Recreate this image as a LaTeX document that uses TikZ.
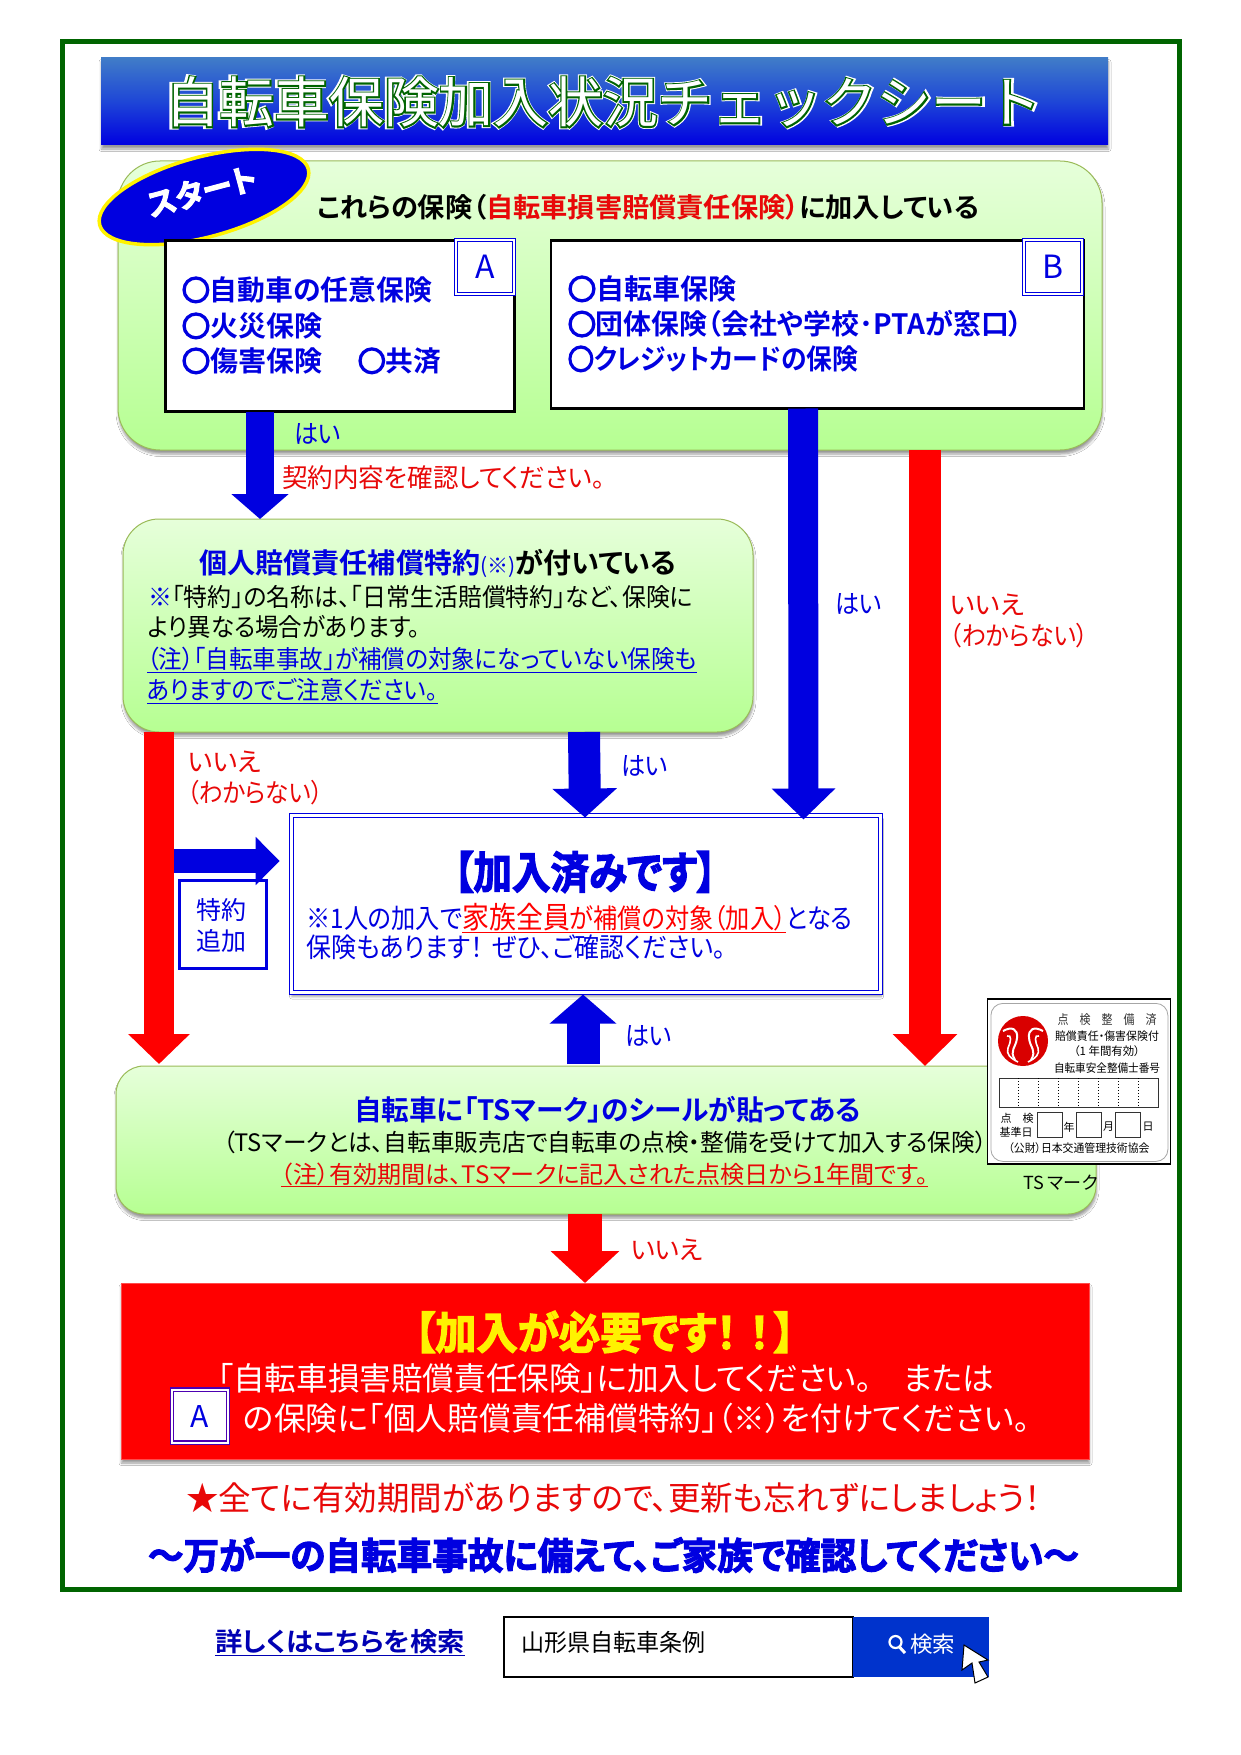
\documentclass[tikz,border=0pt]{standalone}
\usepackage{graphicx}
\usepackage{fontspec}
\usetikzlibrary{arrows.meta,shadows,shadows.blur,shapes.geometric}
\setmainfont{Noto Sans CJK JP}[BoldFont={Noto Sans CJK JP Bold},RawFeature=+palt]
\newfontfamily\jh{Noto Sans CJK JP Bold}[FakeBold=3,RawFeature=+palt]
\newfontfamily\jm{Noto Sans CJK JP Bold}[FakeBold=7]
\newfontfamily\tla{Noto Sans CJK JP}[FakeBold=9]
\newfontfamily\tlb{Noto Sans CJK JP}[FakeBold=5.5]
\newfontfamily\tlc{Noto Sans CJK JP}
\definecolor{bl}{RGB}{0,0,224}
\definecolor{rd}{RGB}{255,0,0}
\definecolor{rt}{RGB}{232,8,8}
\definecolor{dg}{RGB}{0,100,0}
\definecolor{ptop}{RGB}{230,255,218}
\definecolor{pbot}{RGB}{182,255,146}
\definecolor{pedge}{RGB}{155,187,89}
\definecolor{bandtop}{RGB}{64,124,200}
\definecolor{bandmid}{RGB}{30,70,215}
\definecolor{btn}{RGB}{0,51,204}
\newcommand\fs[1]{\fontsize{#1pt}{#1pt}\selectfont}
\newcommand\fw[2]{\resizebox{#1pt}{\height}{#2}}
\newcommand\maru{{\jm ○}}
\newsavebox\ulbox
\newcommand\ul[1]{\leavevmode\sbox\ulbox{#1}\smash{\rlap{\vrule width\wd\ulbox height -0.13em depth 0.17em}}\usebox\ulbox\relax}
\tikzset{
  tx/.style={anchor=west,inner sep=0pt,outer sep=0pt},
  cx/.style={anchor=center,inner sep=0pt,outer sep=0pt},
  softshadow/.style={blur shadow={shadow xshift=.5pt,shadow yshift=-4pt,shadow blur radius=2.5pt,shadow blur steps=5,shadow opacity=40}},
  panel/.style={rectangle,anchor=north west,inner sep=0pt,outer sep=0pt,draw=pedge,line width=1pt,top color=ptop,bottom color=pbot,softshadow},
  listbox/.style={rectangle,anchor=north west,inner sep=0pt,outer sep=0pt,draw=black,line width=2.5pt,fill=white},
  tagbox/.style={rectangle,anchor=north west,inner sep=0pt,outer sep=0pt,draw=bl,line width=1pt,double=white,double distance=1.8pt,fill=white,font=\fs{32}\color{bl}},
  barrow/.style n args={3}{draw=bl,line width=#1pt,-{Triangle[length=#3pt,width=#2pt]}},
  rarrow/.style n args={3}{draw=rd,line width=#1pt,-{Triangle[length=#3pt,width=#2pt]}},
  tsline/.style={cx,font=\fs{11.5}\color{black!75}},
}
\begin{document}
\begin{tikzpicture}[x=1pt,y=-1pt]
\useasboundingbox (0,0) rectangle (1241,1755);
\fill[white] (0,0) rectangle (1241,1755);
% frame
\node[rectangle,anchor=north west,draw=dg,line width=5pt,inner sep=0pt,outer sep=0pt,minimum width=1116.5pt,minimum height=1548pt] (frame) at (62.5,41.5) {};
% title band
\node[rectangle,anchor=north west,inner sep=0pt,outer sep=0pt,minimum width=1007pt,minimum height=87pt,top color=bandtop,bottom color=bl,middle color=bandmid,softshadow] (band) at (101,58) {};
\node[cx,font=\tla\fs{54.5}\color{white}] (titleA) at (603,102) {\fw{880}{自転車保険加入状況チェックシート}};
\node[cx,font=\tlb\fs{54.5}\color{dg}] (titleB) at (603,102) {\fw{876}{自転車保険加入状況チェックシート}};
\node[cx,font=\tlc\fs{54.5}\color{white}] (titleC) at (603,102) {\fw{876}{自転車保険加入状況チェックシート}};
% panel 1
\node[panel,rounded corners=42pt,minimum width=984pt,minimum height=289pt] (p1) at (118,161) {};
\node[ellipse,draw=yellow,line width=3.5pt,fill=bl,minimum width=216pt,minimum height=80pt,inner sep=0pt,rotate=15] (start) at (204,197) {};
\node[cx,rotate=15,font=\jh\fs{31}\color{white}] (startlabel) at (202,191) {\fw{112}{スタート}};
\node[tx,font=\bfseries\fs{27}] (q1) at (317,207) {\fw{662}{これらの保険（{\color{rt}自転車損害賠償責任保険）}に加入している}};
\node[listbox,minimum width=349pt,minimum height=171pt] (boxA) at (165.5,240.5) {};
\node[listbox,minimum width=533pt,minimum height=168pt] (boxB) at (551,240.5) {};
\node[tagbox,minimum width=58pt,minimum height=54pt] (tagA) at (456,240) {A};
\node[tagbox,minimum width=58pt,minimum height=54pt] (tagB) at (1024,240) {B};
\begin{scope}[every node/.style={tx,font=\bfseries\fs{28}\color{bl}}]
\node (a1) at (182,290) {\fw{250}{\maru 自動車の任意保険}};
\node (a2) at (182,326) {\fw{140}{\maru 火災保険}};
\node (a3) at (182,361) {\fw{140}{\maru 傷害保険}};
\node (a4) at (358,361) {\fw{83}{\maru 共済}};
\node (b1) at (568,289) {\fw{168}{\maru 自転車保険}};
\node (b2) at (568,324) {\fw{455}{\maru 団体保険（会社や学校･PTAが窓口）}};
\node (b3) at (568,359) {\fw{290}{\maru クレジットカードの保険}};
\end{scope}
% panel 2
\node[panel,rounded corners=36pt,minimum width=630pt,minimum height=213pt] (p2) at (123,519) {};
\node[tx,font=\bfseries\fs{28}] (h2) at (199.5,563) {\fw{477}{{\color{bl}個人賠償責任補償特約{\mdseries\fs{21}(※)}}が付いている}};
\node[tx,font=\fs{25}] (l1) at (148,597) {\fw{545}{{\color{bl}※}「特約」の名称は、「日常生活賠償特約」など、保険に}};
\node[tx,font=\fs{25}] (l2) at (148,627) {\fw{272}{より異なる場合があります。}};
\node[tx,font=\fs{25}\color{bl}] (l3) at (147,659) {\fw{550}{\ul{（注）「自転車事故」が補償の対象になっていない保険も}}};
\node[tx,font=\fs{25}\color{bl}] (l4) at (147,690) {\fw{291}{\ul{ありますのでご注意ください。}}};
% panel done
\node[rectangle,anchor=north west,inner sep=0pt,outer sep=0pt,draw=bl,line width=1.3pt,double=white,double distance=2.8pt,fill=white,minimum width=589pt,minimum height=177pt,softshadow] (done) at (291.5,815.5) {};
\node[cx,font=\jh\fs{44}\color{bl}] (d0) at (585,872) {\fw{262}{【加入済みです】}};
\node[tx,font=\fs{27}\color{bl}] (d1) at (306.5,917) {\fw{546}{※1人の加入で{\color{rd}\ul{{\fs{30}家族全員}が補償の対象（加入）}}となる}};
\node[tx,font=\fs{27}\color{bl}] (d2) at (306.5,947) {\fw{419}{保険もあります！\hspace{.35em}ぜひ、ご確認ください。}};
\node[rectangle,anchor=north west,inner sep=0pt,outer sep=0pt,draw=bl,line width=3pt,fill=white,minimum width=87pt,minimum height=88pt] (addbox) at (179,880) {};
\node[cx,font=\fs{25}\color{bl}] (add1) at (221.5,910) {特約};
\node[cx,font=\fs{25}\color{bl}] (add2) at (221.5,941) {追加};
% panel 3
\node[panel,rounded corners=28pt,minimum width=980pt,minimum height=148pt] (p3) at (116,1066) {};
\node[tx,font=\bfseries\fs{28}\color{bl}] (h3) at (354,1110) {\fw{507}{自転車に「TSマーク」のシールが貼ってある}};
\node[tx,font=\fs{24}] (s3) at (223,1142.5) {\fw{764}{（TSマークとは、自転車販売店で自転車の点検・整備を受けて加入する保険）}};
\node[tx,font=\fs{24}\color{rt}] (n3) at (281,1174) {\fw{647}{\ul{（注）有効期間は、TSマークに記入された点検日から1年間です。}}};
% need box
\node[rectangle,anchor=north west,inner sep=0pt,outer sep=0pt,draw=rd!70!white,line width=1pt,fill=rd,minimum width=968pt,minimum height=176pt,softshadow] (need) at (121,1283) {};
\node[cx,font=\jh\fs{44}\color{yellow}] (n0) at (604.5,1332) {\fw{380}{【加入が必要です！\hspace{.3em}！\hspace{.1em}】}};
\node[tx,font=\fs{32}\color{white}] (n1) at (217.5,1378) {\fw{777}{「自転車損害賠償責任保険」に加入してください。\hspace{1em}または}};
\node[tx,font=\fs{32}\color{white}] (n2) at (243.5,1418) {\fw{786}{の保険に「個人賠償責任補償特約」（※）を付けてください。}};
\node[rectangle,anchor=north west,inner sep=0pt,outer sep=0pt,draw=blue!60!purple,line width=1.4pt,double=white,double distance=2pt,fill=white,minimum width=56pt,minimum height=53pt,font=\fs{30}\color{bl}] (tagC) at (172,1389.5) {A};
% arrows
\draw[barrow={28}{56}{25}] ([xshift=94.5pt]boxA.south west) -- ([xshift=137pt]p2.north west);
\draw[barrow={30}{62}{31}] ([xshift=252pt]boxB.south west) -- ([xshift=512pt,yshift=-4pt]done.north west);
\draw[rarrow={32}{63}{32}] ([xshift=807pt]p1.south west) -- ([xshift=809pt]p3.north west);
\draw[rarrow={30}{60}{30}] ([xshift=36pt]p2.south west) -- ([xshift=43pt,yshift=2pt]p3.north west);
\draw[barrow={32}{63}{29}] ([xshift=461pt]p2.south west) -- ([xshift=293.5pt,yshift=-2pt]done.north west);
\draw[barrow={33}{65}{29}] ([xshift=467pt,yshift=2pt]p3.north west) -- ([xshift=291.5pt,yshift=-2pt]done.south west);
\draw[rarrow={34}{67}{32}] ([xshift=469pt]p3.south west) -- ([xshift=464pt]need.north west);
\coordinate (branch) at (174,861);
\coordinate (branchend) at (279.6,861);
\draw[barrow={24}{47}{24}] (branch) -- (branchend);
\begin{scope}[every node/.style={tx,font=\fs{26}}]
\node[text=bl] (y1) at (294,434) {\fw{47}{はい}};
\node[text=rt] (c1) at (282,478) {\fw{323}{契約内容を確認してください。}};
\node[text=bl] (y2) at (621,766) {\fw{47}{はい}};
\node[text=bl] (y3) at (835,604) {\fw{47}{はい}};
\node[text=rt] (no1) at (188,762) {\fw{73}{いいえ}};
\node[text=rt] (no1b) at (187,793) {\fw{136}{（わからない）}};
\node[text=rt] (no2) at (950,605) {\fw{74}{いいえ}};
\node[text=rt] (no2b) at (950,636) {\fw{138}{（わからない）}};
\node[text=bl] (y4) at (625,1036) {\fw{47}{はい}};
\node[text=rt] (no3) at (631,1250) {\fw{72}{いいえ}};
\end{scope}
% TS mark
\node[rectangle,anchor=north west,inner sep=0pt,outer sep=0pt,draw=black,line width=1.5pt,fill=white,minimum width=183pt,minimum height=165pt] (ts) at (987.5,999) {};
\node[rectangle,anchor=north west,inner sep=0pt,draw=black!35,line width=.8pt,rounded corners=12pt,minimum width=177pt,minimum height=158pt] (tsin) at (990.5,1003) {};
\fill[rd!85!black] (1023,1041) circle (25);
\draw[white,line width=2pt] (1003,1031) .. controls (1012,1026) and (1018,1029) .. (1017,1038) .. controls (1016,1048) and (1009,1050) .. (1015,1060);
\draw[white,line width=2pt] (1043,1031) .. controls (1034,1026) and (1028,1029) .. (1029,1038) .. controls (1030,1048) and (1037,1050) .. (1031,1060);
\draw[white,line width=1.6pt] (1007,1036) .. controls (1012,1034) and (1011,1042) .. (1008,1048) .. controls (1006,1054) and (1010,1058) .. (1018,1062);
\draw[white,line width=1.6pt] (1039,1036) .. controls (1034,1034) and (1035,1042) .. (1038,1048) .. controls (1040,1054) and (1036,1058) .. (1028,1062);
\node[tsline,font=\fs{13}\color{black!80}] (ts1) at (1107,1020) {\fw{99}{点　検　整　備　済}};
\node[tsline,font=\fs{11.5}] (ts2) at (1107,1036) {\fw{104}{賠償責任・傷害保険付}};
\node[tsline,font=\fs{11.5}] (ts3) at (1107,1051) {\fw{66}{（1 年間有効）}};
\node[tsline,font=\fs{11.5}] (ts4) at (1107,1068) {\fw{106}{自転車安全整備士番号}};
\node[rectangle,anchor=north west,inner sep=0pt,draw=black!80,line width=1pt,minimum width=159pt,minimum height=29pt] (tsnum) at (998.7,1078) {};
\foreach \i in {355,415,475,535,595,655,715} \draw[black,line width=1pt,dotted] (900+\i/3,1078) -- (900+\i/3,1107);
\node[tsline,font=\fs{11}] (ts5) at (1017,1118) {点　検};
\node[tsline,font=\fs{11}] (ts6) at (1016,1132) {基準日};
\foreach \n/\i in {ya/412,mo/528,da/646} \node[rectangle,anchor=north west,inner sep=0pt,draw=black!80,line width=1pt,minimum width=25pt,minimum height=25pt] (\n) at (900+\i/3,1112) {};
\node[tsline,font=\fs{11}] (ts7) at (1069,1127) {年};
\node[tsline,font=\fs{11}] (ts8) at (1108.5,1127) {月};
\node[tsline,font=\fs{11}] (ts9) at (1148,1127) {日};
\node[tsline,font=\fs{11.5}] (ts10) at (1079,1148) {\fw{141}{（公財）日本交通管理技術協会}};
\node[tx,font=\fs{18}] (tsm) at (1023,1183) {\fw{75}{TS マーク}};
% bottom
\node[tx,font=\fs{33}\color{rt}] (b01) at (186,1498) {\fw{855}{★全てに有効期間がありますので、更新も忘れずにしましょう！}};
\node[tx,font=\jh\fs{37}\color{bl}] (b02) at (148,1555) {\fw{931}{～万が一の自転車事故に備えて、ご家族で確認してください～}};
\node[tx,font=\bfseries\fs{26}\color{bl!80!black}] (link) at (215,1642) {\fw{250}{\ul{詳しくはこちらを検索}}};
\node[rectangle,anchor=north west,inner sep=0pt,outer sep=0pt,draw=black,line width=1.5pt,fill=white,minimum width=349pt,minimum height=60pt] (sb) at (504,1617) {};
\node[rectangle,anchor=north west,inner sep=0pt,outer sep=0pt,fill=btn,minimum width=136pt,minimum height=60pt] (sbtn) at (852.5,1617) {};
\node[tx,font=\fs{24}] (sq) at (521,1642) {\fw{184}{山形県自転車条例}};
\node[tx,font=\fs{22}\color{white}] (sl) at (910,1644) {\fw{45}{検索}};
\draw[white,line width=2.2pt] (895.5,1642) circle (6);
\draw[white,line width=3pt] (899.5,1647) -- (905,1653);
\fill[white,draw=black,line width=1pt] (964,1645) -- (962,1670) -- (972,1663) -- (975,1683) -- (988,1677) -- (979,1662) -- (988,1660) -- cycle;
\end{tikzpicture}
\end{document}
